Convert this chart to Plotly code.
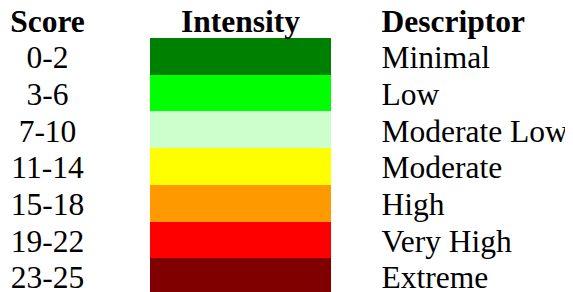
import plotly.graph_objects as go

# ---- data ----
scores = ["0-2", "3-6", "7-10", "11-14", "15-18", "19-22", "23-25"]
descriptors = ["Minimal", "Low", "Moderate Low", "Moderate", "High", "Very High", "Extreme"]
intensity_colors = ["#008000", "#00ff00", "#ccffcc", "#ffff00", "#ff9900", "#ff0000", "#800000"]
headers = ["Score", "Intensity", "Descriptor"]
bar_length = [1] * len(scores)

# ---- layout constants (page has an 8px body margin) ----
OFF = 8
PAGE_W, PAGE_H = 573, 292
W, H = PAGE_W - OFF, PAGE_H - OFF
BAR_LEFT_PX, BAR_W_PX = 150 - OFF, 181
ROW_H = 36.7
TOP_PX = 38 - OFF
FONT = "Liberation Serif"
FS = 31.5
TEXT_DY = 4 / ROW_H  # nudge text down to sit centred in its row

rows = list(range(len(scores)))
px_per_unit = BAR_W_PX
x0 = -BAR_LEFT_PX / px_per_unit
x1 = (W - BAR_LEFT_PX) / px_per_unit
y_top = -0.5 - TOP_PX / ROW_H
y_bot = y_top + H / ROW_H

def px_to_x(p):
    return (p - OFF - BAR_LEFT_PX) / px_per_unit

score_x = px_to_x(47.5)
desc_x = px_to_x(381.5)
inten_x = px_to_x(150 + BAR_W_PX / 2)
text_rows = [r + TEXT_DY for r in rows]
head_row = -1 + TEXT_DY

fig = go.Figure()
fig.add_trace(go.Bar(
    y=rows, x=bar_length, base=0, orientation="h", width=1,
    marker=dict(color=intensity_colors, line=dict(width=0)),
    hoverinfo="skip", showlegend=False,
))
fig.add_trace(go.Scatter(
    x=[score_x] * len(scores), y=text_rows, mode="text", text=scores,
    textposition="middle center", cliponaxis=False,
    textfont=dict(family=FONT, size=FS, color="black"),
    showlegend=False, hoverinfo="skip",
))
fig.add_trace(go.Scatter(
    x=[desc_x] * len(descriptors), y=text_rows, mode="text", text=descriptors,
    textposition="middle right", cliponaxis=False,
    textfont=dict(family=FONT, size=FS, color="black"),
    showlegend=False, hoverinfo="skip",
))
fig.add_trace(go.Scatter(
    x=[score_x, inten_x], y=[head_row, head_row], mode="text",
    text=["<b>%s</b>" % h for h in headers[:2]],
    textposition="middle center", cliponaxis=False,
    textfont=dict(family=FONT, size=FS, color="black"),
    showlegend=False, hoverinfo="skip",
))
fig.add_trace(go.Scatter(
    x=[desc_x], y=[head_row], mode="text",
    text=["<b>%s</b>" % headers[2]],
    textposition="middle right", cliponaxis=False,
    textfont=dict(family=FONT, size=FS, color="black"),
    showlegend=False, hoverinfo="skip",
))

fig.update_layout(
    width=W, height=H,
    margin=dict(l=0, r=0, t=0, b=0, pad=0),
    paper_bgcolor="white", plot_bgcolor="white",
    bargap=0,
    xaxis=dict(range=[x0, x1], visible=False, fixedrange=True),
    yaxis=dict(range=[y_bot, y_top], visible=False, fixedrange=True),
)

fig.write_html("out.html", config={"displayModeBar": False})
